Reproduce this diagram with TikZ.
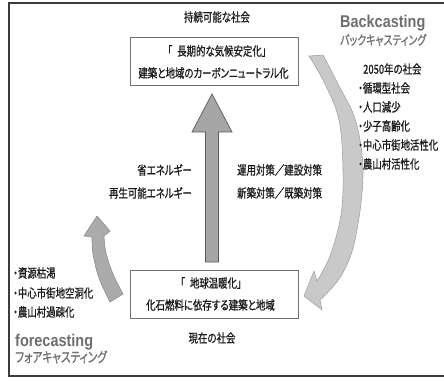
\documentclass[tikz,border=0pt]{standalone}
\usepackage{fontspec}
\newfontfamily\jp[FakeStretch=0.76,FakeBold=0.8,RawFeature={+palt}]{Noto Sans CJK JP}
\newfontfamily\lat[FakeStretch=0.85]{Liberation Sans}
\definecolor{framec}{HTML}{3C3C3C}
\definecolor{boxc}{HTML}{707070}
\definecolor{bigfill}{HTML}{A6A6A6}
\definecolor{bigline}{HTML}{5A5A5A}
\definecolor{lfill}{HTML}{ABABAB}
\definecolor{lline}{HTML}{8C8C8C}
\definecolor{rfill}{HTML}{C9C9C9}
\definecolor{rline}{HTML}{A5A5A5}
\definecolor{grtxt}{HTML}{6E6E6E}
\tikzset{
  jtxt/.style={font=\jp\fontsize{12.4}{14}\selectfont, inner sep=0pt, text=black!90},
  ktxt/.style={font=\jp\fontsize{13}{15}\selectfont, inner sep=0pt, text=grtxt},
  etxt/.style={font=\lat\bfseries\fontsize{17}{19}\selectfont, inner sep=0pt, text=grtxt},
  stbox/.style={draw=boxc, line width=0.7pt, fill=white, minimum width=168pt, minimum height=48pt, inner sep=0pt},
  bigarrow/.style={fill=bigfill, draw=bigline, line width=0.7pt},
  larrow/.style={fill=lfill, draw=lline, line width=0.6pt},
  rarrow/.style={fill=rfill, draw=rline, line width=0.6pt},
  frame/.style={draw=framec, line width=1.2pt}
}
\begin{document}
\begin{tikzpicture}[x=1pt,y=-1pt]
\useasboundingbox (0,0) rectangle (444,382);
\begin{scope}
\clip (0,0) rectangle (444,382);
\draw[frame] (9,3) rectangle (460,376);
% right curved arrow (backcasting)
\filldraw[rarrow] plot[smooth, tension=0.6] coordinates {(309,56) (325,84) (339,120) (343,170) (341,215) (330,256) (317,281)}
  -- (314,271) -- (304,296) -- (322,310) -- (320,300)
  -- plot[smooth, tension=0.6] coordinates {(320,300) (341,276) (355,240) (363,175) (356,122) (338,84) (323,55)} -- cycle;
% left curved arrow (forecasting)
\filldraw[larrow] plot[smooth, tension=0.6] coordinates {(110,302) (99,278) (93,254) (92,237)}
  -- (84,236) -- (97,216) -- (110,231) -- (104,236)
  -- plot[smooth, tension=0.6] coordinates {(104,236) (106,253) (113,274) (123,294)} -- cycle;
% big up arrow
\filldraw[bigarrow] (205.5,262) -- (205.5,132) -- (192,132) -- (212,94) -- (232,132) -- (218.5,132) -- (218.5,262) -- cycle;
% boxes
\node[stbox] (topbox) at (214,61) {};
\node[stbox] (botbox) at (214,294.5) {};
\node[jtxt] (t1) at (217,51) {「\hspace{5pt}長期的な気候安定化」};
\node[jtxt] (t2) at (213.5,73) {建築と地域のカーボンニュートラル化};
\node[jtxt] (b1) at (211,283) {「\hspace{5pt}地球温暖化」};
\node[jtxt] (b2) at (210.5,305) {化石燃料に依存する建築と地域};
\node[jtxt] (sust) at (217,17) {持続可能な社会};
\node[jtxt] (now) at (212,338) {現在の社会};
% middle labels
\node[jtxt, anchor=east] (m1) at (192,170) {省エネルギー};
\node[jtxt, anchor=east] (m2) at (192,193) {再生可能エネルギー};
\node[jtxt, anchor=west] (m3) at (237,170) {運用対策／建設対策};
\node[jtxt, anchor=west] (m4) at (237,193) {新築対策／既築対策};
% backcasting
\node[etxt, anchor=base west] (bc) at (340,28) {Backcasting};
\node[ktxt, anchor=west] (bck) at (340,40) {バックキャスティング};
\node[jtxt, anchor=west] (r0) at (363,69) {2050年の社会};
\node[jtxt, anchor=west] (r1) at (358,88) {・循環型社会};
\node[jtxt, anchor=west] (r2) at (358,107) {・人口減少};
\node[jtxt, anchor=west] (r3) at (358,126) {・少子高齢化};
\node[jtxt, anchor=west] (r4) at (358,145) {・中心市街地活性化};
\node[jtxt, anchor=west] (r5) at (358,164) {・農山村活性化};
% forecasting
\node[jtxt, anchor=west] (l1) at (13,273) {・資源枯渇};
\node[jtxt, anchor=west] (l2) at (13,293) {・中心市街地空洞化};
\node[jtxt, anchor=west] (l3) at (13,312) {・農山村過疎化};
\node[etxt, anchor=base west] (fc) at (15,346) {forecasting};
\node[ktxt, anchor=west, font=\jp\fontsize{14}{16}\selectfont] (fck) at (15,357) {フォアキャスティング};
\end{scope}
\end{tikzpicture}
\end{document}
